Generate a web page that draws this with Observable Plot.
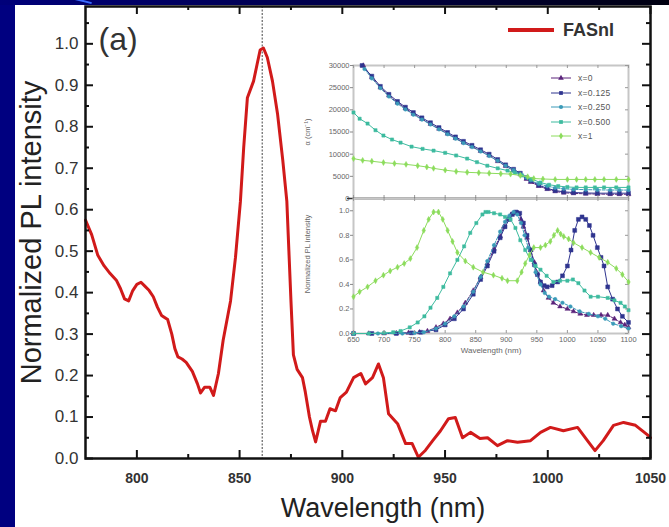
<!DOCTYPE html>
<html>
<head>
<meta charset="utf-8">
<script src="https://cdn.jsdelivr.net/npm/d3@7"></script>
<script src="https://cdn.jsdelivr.net/npm/@observablehq/plot@0.6"></script>
<style>
html, body { margin: 0; padding: 0; }
body { width: 669px; height: 527px; overflow: hidden; background: #000080; position: relative; font-family: "Liberation Sans", Arial, sans-serif; }
#topband { position: absolute; left: 0; top: 0; width: 669px; height: 5px; background: linear-gradient(90deg, #00007a, #000040 60%, #000010); }
#streak { position: absolute; left: 66px; top: -1px; width: 26px; height: 2px; background: #3a6cff; transform: rotate(14deg); }
#panel { position: absolute; left: 15px; top: 5px; width: 654px; height: 522px; background: #ffffff; }
.abs { position: absolute; }
#legend { position: absolute; left: 508px; top: 19px; height: 22px; display: flex; align-items: center; }
#legend .sw { display: inline-block; width: 46px; height: 4px; background: #d11a1a; }
#legend .lb { margin-left: 9px; font: bold 18px "Liberation Sans", Arial, sans-serif; color: #333; }
#ilegend { position: absolute; left: 550px; top: 71px; }
#ilegend .row { height: 14.5px; display: flex; align-items: center; }
#ilegend .row span { margin-left: 6px; font: 8.5px "Liberation Sans", Arial, sans-serif; color: #555; letter-spacing: 0.3px; }
</style>
</head>
<body>
<div id="panel"></div>
<div id="topband"></div>
<div id="streak"></div>
<div id="main" class="abs" style="left:0;top:0"></div>
<div id="insetTop" class="abs" style="left:300px;top:60px"></div>
<div id="insetBot" class="abs" style="left:300px;top:198px"></div>
<div id="legend"><span class="sw"></span><span class="lb">FASnI</span></div>
<div id="ilegend"></div>
<script>
// ---------- main chart data (FASnI PL) ----------
const fasniWl = [775, 778, 781, 784, 787, 790, 792, 794, 796, 798, 800, 802, 804, 806, 808, 810, 812, 815, 817, 818.5, 820, 822, 824, 827, 829.5, 831, 833, 835.5, 837.3, 839.7, 842, 845.6, 848, 850.4, 852, 853.8, 856.8, 858.5, 860, 861.6, 863.5, 866, 868.5, 871, 873, 874, 875, 876.2, 878, 880.6, 882, 884, 885.5, 887, 889.4, 891.8, 894, 896.7, 899, 902, 905.5, 909, 911.3, 914.7, 917.6, 920, 922.5, 926.9, 930.8, 934, 937, 940.5, 944, 947.8, 951.7, 955, 958.5, 962.4, 967, 970.7, 975.5, 980.4, 985.3, 991.6, 996.5, 1001.3, 1007.6, 1014.5, 1019.3, 1023, 1027, 1032, 1036.9, 1042.7, 1049, 1050];
const fasniPL = [0.575, 0.54, 0.49, 0.465, 0.446, 0.43, 0.41, 0.385, 0.38, 0.405, 0.42, 0.425, 0.415, 0.405, 0.39, 0.365, 0.345, 0.335, 0.30, 0.265, 0.245, 0.24, 0.232, 0.21, 0.18, 0.158, 0.172, 0.172, 0.152, 0.205, 0.285, 0.38, 0.485, 0.62, 0.75, 0.87, 0.91, 0.95, 0.985, 0.99, 0.967, 0.91, 0.83, 0.72, 0.62, 0.50, 0.38, 0.25, 0.215, 0.195, 0.16, 0.10, 0.067, 0.04, 0.09, 0.09, 0.12, 0.115, 0.147, 0.16, 0.195, 0.205, 0.18, 0.195, 0.228, 0.195, 0.108, 0.084, 0.036, 0.036, 0.003, 0.02, 0.043, 0.067, 0.096, 0.099, 0.05, 0.063, 0.048, 0.05, 0.031, 0.043, 0.039, 0.043, 0.063, 0.075, 0.067, 0.075, 0.043, 0.019, 0.043, 0.08, 0.087, 0.08, 0.055, 0.05];
const peakMarker = [861];
const xMajorTicks = [800, 850, 900, 950, 1000, 1050];
const xMinorTicks = [825, 875, 925, 975, 1025];
const yMajorTicks = [0, 0.1, 0.2, 0.3, 0.4, 0.5, 0.6, 0.7, 0.8, 0.9, 1.0];
const yMinorTicks = [0.05, 0.15, 0.25, 0.35, 0.45, 0.55, 0.65, 0.75, 0.85, 0.95, 1.05];
const mainXLabel = "Wavelength (nm)";
const mainYLabel = "Normalized PL intensity";
const panelTag = "(a)";

// ---------- inset data ----------
const seriesNames = ["x=0", "x=0.125", "x=0.250", "x=0.500", "x=1"];
const seriesColors = ["#5a237a", "#2f348f", "#3a9ab8", "#3dbb9f", "#8cdc5c"];
const seriesSymbols = ["triangle", "square", "circle", "square", "diamond"];
// absorption coefficient (cm^-1): [wavelength, alpha]
const absX0 = [[666,30000],[680,27300],[694,25000],[708,23200],[722,21600],[735,20300],[748,19100],[762,17900],[776,16800],[790,15700],[804,14600],[817,13600],[830,12600],[844,11700],[858,10700],[872,9700],[886,8400],[899,7300],[912,6300],[923,5400],[933,4400],[940,3700],[953,2800],[967,2100],[980,1600],[994,1300],[1010,1150],[1030,1050],[1049,1000],[1070,950],[1085,950],[1100,950]];
const absX125 = [[664,30000],[680,27600],[694,25300],[708,23500],[722,21900],[735,20600],[748,19400],[762,18200],[776,17100],[790,16000],[804,14900],[817,13900],[830,12900],[844,12000],[858,11000],[872,10000],[886,8800],[899,7600],[912,6600],[923,5700],[933,4700],[940,4000],[953,3000],[967,2300],[980,1800],[994,1500],[1010,1350],[1030,1250],[1049,1200],[1070,1200],[1085,1200],[1100,1200]];
const absX250 = [[668,29200],[680,27100],[694,24900],[708,23000],[722,21400],[735,20100],[748,18900],[762,17800],[776,16700],[790,15600],[804,14500],[817,13500],[830,12500],[844,11600],[858,10600],[872,9600],[886,8500],[899,7400],[912,6400],[923,5500],[933,4700],[940,4100],[953,3300],[967,2800],[980,2400],[994,2200],[1010,2050],[1030,2000],[1049,1950],[1070,1900],[1085,1900],[1100,1900]];
const absX500 = [[650,19400],[660,18000],[673,16900],[686,15400],[699,14200],[713,13300],[727,12600],[745,11700],[763,11200],[781,10800],[800,10300],[818,9700],[836,9000],[852,8200],[869,7400],[886,6800],[902,6300],[914,5800],[926,5200],[941,4400],[956,3600],[970,3100],[985,2800],[1000,2600],[1015,2500],[1030,2500],[1045,2500],[1060,2500],[1080,2500],[1100,2500]];
const absX1 = [[650,9000],[665,8600],[680,8400],[699,8100],[717,7900],[736,7700],[755,7400],[770,7100],[781,6800],[800,6400],[818,6100],[836,5900],[855,5800],[872,5700],[891,5600],[907,5500],[923,5200],[935,4900],[945,4500],[960,4400],[980,4300],[1000,4300],[1015,4300],[1030,4300],[1045,4300],[1060,4300],[1080,4300],[1100,4300]];
// normalized PL: [wavelength, intensity]
const plX0 = [[650,0],[675,0],[700,0],[720,0.003],[740,0.005],[758,0.01],[771,0.02],[785,0.05],[797,0.08],[808,0.12],[820,0.17],[833,0.25],[846,0.35],[858,0.46],[869,0.57],[880,0.69],[890,0.79],[896,0.87],[902,0.93],[908,0.97],[912,0.98],[920,0.98],[924,0.93],[928,0.87],[934,0.78],[940,0.68],[946,0.58],[951,0.49],[956,0.42],[961,0.35],[969,0.29],[977,0.25],[988,0.22],[1000,0.2],[1010,0.18],[1021,0.16],[1032,0.15],[1043,0.15],[1055,0.15],[1066,0.15],[1077,0.12],[1087,0.09],[1094,0.07],[1100,0.05]];
const plX125 = [[650,0],[680,0],[720,0],[745,0.005],[760,0.01],[785,0.03],[800,0.07],[815,0.12],[830,0.2],[846,0.32],[858,0.44],[869,0.55],[880,0.67],[890,0.78],[898,0.87],[905,0.93],[910,0.97],[916,0.99],[922,0.98],[928,0.9],[934,0.8],[940,0.68],[946,0.56],[951,0.48],[956,0.42],[962,0.39],[967,0.38],[975,0.39],[984,0.42],[992,0.47],[1000,0.55],[1006,0.68],[1012,0.84],[1018,0.93],[1024,0.95],[1030,0.93],[1036,0.88],[1042,0.8],[1049,0.7],[1055,0.62],[1060,0.55],[1066,0.38],[1074,0.28],[1082,0.2],[1090,0.14],[1100,0.09]];
const plX250 = [[650,0],[690,0],[730,0],[750,0.005],[765,0.01],[785,0.04],[800,0.08],[815,0.14],[830,0.22],[846,0.34],[858,0.46],[869,0.59],[880,0.72],[890,0.83],[898,0.91],[905,0.96],[912,0.99],[918,0.97],[924,0.9],[930,0.8],[936,0.7],[942,0.6],[948,0.5],[956,0.4],[963,0.33],[970,0.3],[980,0.28],[992,0.25],[1005,0.22],[1020,0.18],[1035,0.16],[1050,0.14],[1062,0.12],[1075,0.08],[1088,0.06],[1100,0.04]];
const plX500 = [[650,0],[675,0],[700,0.005],[715,0.01],[727,0.02],[742,0.05],[755,0.09],[766,0.14],[776,0.21],[787,0.29],[797,0.38],[808,0.49],[820,0.6],[831,0.71],[841,0.82],[851,0.9],[861,0.97],[866,0.99],[871,0.99],[880,0.98],[890,0.97],[898,0.95],[907,0.93],[915,0.86],[923,0.76],[931,0.68],[940,0.6],[948,0.55],[956,0.52],[966,0.47],[977,0.42],[988,0.43],[1000,0.43],[1009,0.44],[1018,0.41],[1028,0.35],[1038,0.3],[1050,0.3],[1066,0.29],[1077,0.27],[1087,0.25],[1094,0.22],[1100,0.19]];
const plX1 = [[650,0.3],[660,0.34],[673,0.38],[686,0.43],[699,0.475],[710,0.51],[722,0.54],[733,0.57],[743,0.61],[754,0.7],[765,0.84],[773,0.93],[781,0.99],[789,0.99],[796,0.93],[804,0.84],[812,0.75],[820,0.66],[833,0.59],[846,0.54],[862,0.5],[879,0.475],[893,0.45],[902,0.43],[918,0.43],[925,0.5],[931,0.57],[938,0.64],[945,0.7],[956,0.7],[964,0.72],[972,0.75],[978,0.8],[984,0.84],[989,0.81],[994,0.79],[1002,0.77],[1010,0.74],[1024,0.7],[1038,0.66],[1052,0.62],[1066,0.58],[1080,0.53],[1090,0.48],[1100,0.42]];
const insetXTicks = [650, 700, 750, 800, 850, 900, 950, 1000, 1050, 1100];
const absTicks = [0, 5000, 10000, 15000, 20000, 25000, 30000];
const plTicks = [0, 0.2, 0.4, 0.6, 0.8, 1.0];
const absLabel = "α (cm⁻¹)";
const plLabel = "Normalized PL intensity";
const insetXLabel = "Wavelength (nm)";

const FONT = "'Liberation Sans', Arial, sans-serif";

// ---------- main plot ----------
const M = {w: 669, h: 527, l: 85, r: 19, t: 6, b: 69};
const fW = M.w - M.l - M.r, fH = M.h - M.t - M.b;
const mainData = fasniWl.map((w, i) => ({w, v: fasniPL[i]}));
const tk = {stroke: "#111", strokeWidth: 2};
const mainPlot = Plot.plot({
  width: M.w, height: M.h,
  marginLeft: M.l, marginRight: M.r, marginTop: M.t, marginBottom: M.b,
  style: {background: "transparent", fontFamily: FONT, color: "#222"},
  x: {domain: [775, 1050]},
  y: {domain: [0, 1.09]},
  marks: [
    Plot.ruleX(peakMarker, {stroke: "#444", strokeWidth: 1, strokeDasharray: "2,1.5"}),
    Plot.line(mainData, {x: "w", y: "v", stroke: "#d11a1a", strokeWidth: 3, strokeLinejoin: "round"}),
    // inward ticks on all four sides
    Plot.ruleX(xMajorTicks, {...tk, insetTop: fH - 8}),
    Plot.ruleX(xMinorTicks, {...tk, insetTop: fH - 4}),
    Plot.ruleX(xMajorTicks, {...tk, insetBottom: fH - 8}),
    Plot.ruleX(xMinorTicks, {...tk, insetBottom: fH - 4}),
    Plot.ruleY(yMajorTicks, {...tk, insetRight: fW - 8}),
    Plot.ruleY(yMinorTicks, {...tk, insetRight: fW - 4}),
    Plot.ruleY(yMajorTicks, {...tk, insetLeft: fW - 8}),
    Plot.ruleY(yMinorTicks, {...tk, insetLeft: fW - 4}),
    Plot.axisX(xMajorTicks, {anchor: "bottom", tickSize: 0, tickPadding: 15, fontSize: 14, fontWeight: "bold", fill: "#333", label: null, tickFormat: d => String(d)}),
    Plot.axisY(yMajorTicks, {anchor: "left", tickSize: 0, tickPadding: 7, fontSize: 17, fill: "#333", label: null, tickFormat: d3.format(".1f")}),
    Plot.frame({stroke: "#111", strokeWidth: 2.5}),
    Plot.text([panelTag], {frameAnchor: "top-left", dx: 13, dy: 21, lineAnchor: "top", textAnchor: "start", fontSize: 32, fill: "#333"}),
    Plot.text([mainXLabel], {frameAnchor: "bottom", dx: 15, dy: 39, lineAnchor: "top", textAnchor: "middle", fontSize: 27, fill: "#222"}),
    Plot.text([mainYLabel], {frameAnchor: "left", dx: -54, rotate: -90, lineAnchor: "middle", textAnchor: "middle", fontSize: 29, fill: "#222"})
  ]
});
document.getElementById("main").appendChild(mainPlot);

// ---------- inset helpers ----------
function seriesMarks(sets) {
  const out = [];
  sets.forEach((pts, i) => {
    const data = pts.map(([w, v]) => ({w, v}));
    out.push(Plot.line(data, {x: "w", y: "v", stroke: seriesColors[i], strokeWidth: 1, strokeDasharray: i === 0 || i === 2 ? "3,1.5" : null}));
    out.push(Plot.dot(data, {x: "w", y: "v", fill: seriesColors[i], stroke: seriesColors[i], strokeWidth: 0.5, symbol: seriesSymbols[i], r: i === 1 ? 2.2 : 1.8}));
  });
  return out;
}
const itk = {stroke: "#999", strokeWidth: 1};
function insetTicks(fw, fh, yTicks) {
  return [
    Plot.ruleX(insetXTicks, {...itk, insetTop: fh - 3}),
    Plot.ruleX(insetXTicks, {...itk, insetBottom: fh - 3}),
    Plot.ruleY(yTicks, {...itk, insetLeft: fw - 3})
  ];
}

// ---------- inset top: absorption ----------
const T = {w: 338, h: 143, l: 53, r: 10, t: 5, b: 5};
const insetTop = Plot.plot({
  width: T.w, height: T.h,
  marginLeft: T.l, marginRight: T.r, marginTop: T.t, marginBottom: T.b,
  style: {background: "transparent", fontFamily: FONT, color: "#666"},
  x: {domain: [650, 1100], axis: null},
  y: {domain: [0, 30000]},
  marks: [
    Plot.frame({stroke: "#c6c6c6", strokeWidth: 2}),
    ...seriesMarks([absX0, absX125, absX250, absX500, absX1]),
    ...insetTicks(T.w - T.l - T.r, T.h - T.t - T.b, absTicks),
    Plot.axisY(absTicks, {anchor: "left", tickSize: 3, tickPadding: 1, stroke: "#888", fontSize: 7.5, fill: "#666", label: null, tickFormat: d => String(d)}),
    Plot.ruleY([0], {stroke: "#333", strokeWidth: 1.5, insetLeft: -6}),
    Plot.text([absLabel], {frameAnchor: "left", dx: -46, rotate: -90, textAnchor: "middle", lineAnchor: "middle", fontSize: 7.5, fill: "#666"})
  ]
});
document.getElementById("insetTop").appendChild(insetTop);

// ---------- inset bottom: normalized PL ----------
const B = {w: 338, h: 165, l: 53, r: 10, t: 0, b: 30};
const insetBot = Plot.plot({
  width: B.w, height: B.h,
  marginLeft: B.l, marginRight: B.r, marginTop: B.t, marginBottom: B.b,
  style: {background: "transparent", fontFamily: FONT, color: "#666"},
  x: {domain: [650, 1100]},
  y: {domain: [0, 1.1]},
  marks: [
    Plot.frame({stroke: "#c6c6c6", strokeWidth: 2}),
    ...seriesMarks([plX0, plX125, plX250, plX500, plX1]),
    ...insetTicks(B.w - B.l - B.r, B.h - B.t - B.b, plTicks),
    Plot.axisY(plTicks, {anchor: "left", tickSize: 3, tickPadding: 1, stroke: "#888", fontSize: 7.5, fill: "#666", label: null, tickFormat: d3.format(".1f")}),
    Plot.axisX(insetXTicks, {anchor: "bottom", tickSize: 0, tickPadding: 3, fontSize: 7.5, fill: "#666", label: null, tickFormat: d => String(d)}),
    Plot.text([plLabel], {frameAnchor: "left", dx: -46, dy: -12, rotate: -90, textAnchor: "middle", lineAnchor: "middle", fontSize: 7.5, fill: "#666"}),
    Plot.text([insetXLabel], {frameAnchor: "bottom", dy: 19, textAnchor: "middle", fontSize: 8, fill: "#666"})
  ]
});
document.getElementById("insetBot").appendChild(insetBot);

// ---------- inset legend ----------
const il = document.getElementById("ilegend");
const symNames = ["circle","cross","diamond","square","star","triangle","wye"];
seriesNames.forEach((name, i) => {
  const row = document.createElement("div");
  row.className = "row";
  const ns = "http://www.w3.org/2000/svg";
  const svg = document.createElementNS(ns, "svg");
  svg.setAttribute("width", 22); svg.setAttribute("height", 8);
  const ln = document.createElementNS(ns, "line");
  ln.setAttribute("x1", 1); ln.setAttribute("x2", 21); ln.setAttribute("y1", 4); ln.setAttribute("y2", 4);
  ln.setAttribute("stroke", seriesColors[i]); ln.setAttribute("stroke-width", 1);
  svg.appendChild(ln);
  const sym = d3.symbol(d3.symbolsFill[symNames.indexOf(seriesSymbols[i])] || d3.symbolCircle, 14)();
  const p = document.createElementNS(ns, "path");
  p.setAttribute("d", sym); p.setAttribute("transform", "translate(11,4)"); p.setAttribute("fill", seriesColors[i]);
  svg.appendChild(p);
  row.appendChild(svg);
  const t = document.createElement("span");
  t.textContent = name;
  row.appendChild(t);
  il.appendChild(row);
});
</script>
</body>
</html>
